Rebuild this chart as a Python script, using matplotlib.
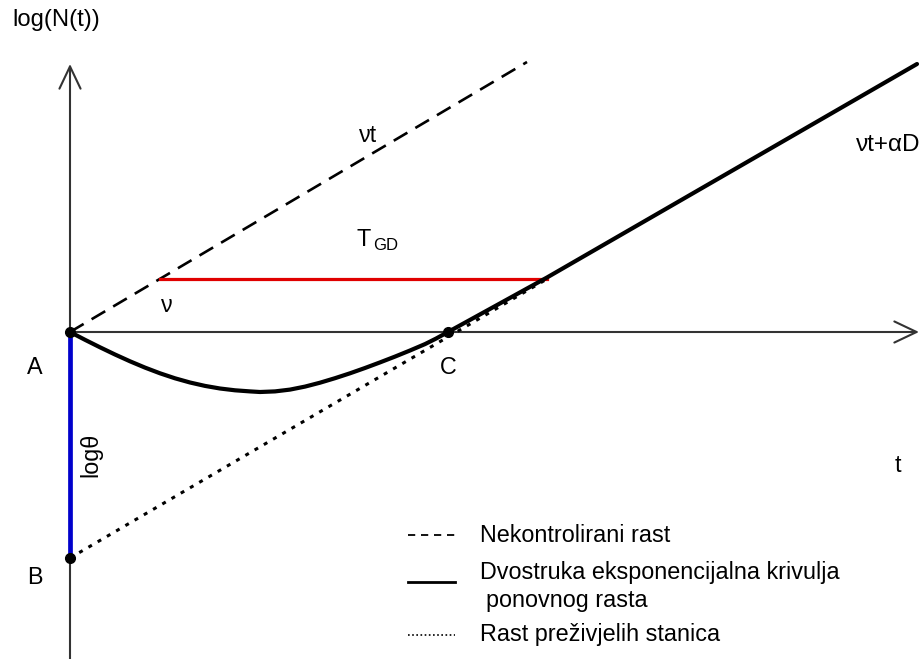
import matplotlib
matplotlib.use("Agg")
import matplotlib.pyplot as plt

plt.rcParams['font.family'] = ['Liberation Sans', 'DejaVu Sans']

# Model coordinates: time t to the right, log(N(t)) upward, origin at A.
log_theta = -2.26

# Uncontrolled growth (slope nu, starts at A)
uncontrolled_t = [0.0, 4.57]
uncontrolled_y = [0.0, 2.70]

# Growth of surviving cells (starts at B = log(theta))
survivors_t = [0.0, 4.77]
survivors_y = [log_theta, 0.53]

# Double exponential regrowth curve
regrowth_t = [0.00, 0.15, 0.30, 0.45, 0.60, 0.75, 0.90, 1.05, 1.20, 1.35,
              1.50, 1.65, 1.80, 1.90, 2.05, 2.20, 2.35, 2.50, 2.65, 2.80,
              2.95, 3.10, 3.25, 3.40, 3.55, 3.66, 3.78, 4.30, 4.77, 8.47]
regrowth_y = [0.000, -0.078, -0.153, -0.225, -0.293, -0.356, -0.413, -0.463,
              -0.505, -0.539, -0.565, -0.583, -0.594, -0.600, -0.594, -0.576,
              -0.546, -0.507, -0.462, -0.413, -0.360, -0.304, -0.246, -0.185,
              -0.121, -0.066, 0.000, 0.286, 0.545, 2.68]

# Growth delay T_GD
tgd_t = [0.90, 4.77]
tgd_y = 0.53

# Marked points
point_a = (0.0, 0.0)
point_b = (0.0, log_theta)
point_c = (3.78, 0.0)

fig = plt.figure(figsize=(9.22, 6.59), dpi=100)
ax = fig.add_axes([0, 0, 1, 1])
ax.set_xlim(-0.70, 8.52)
ax.set_ylim(-3.27, 3.32)
ax.axis('off')

axis_color = '#333333'
arrow_kw = dict(arrowstyle='->,head_length=0.8,head_width=0.38',
                color=axis_color, lw=1.5, shrinkA=0, shrinkB=0,
                mutation_scale=20)
ax.annotate('', xy=(0.0, 2.68), xytext=(0.0, -3.30), arrowprops=arrow_kw)
ax.annotate('', xy=(8.49, 0.0), xytext=(0.0, 0.0), arrowprops=arrow_kw)

# log(theta) segment
ax.plot([0.0, 0.0], [0.0, log_theta], color='#0000cc', lw=3.4,
        solid_capstyle='butt', zorder=3)

ax.plot(uncontrolled_t, uncontrolled_y, color='black', lw=1.9,
        dashes=(6, 3.5), zorder=3)
ax.plot(survivors_t, survivors_y, color='black', lw=2.2,
        dashes=(1.3, 2.2), zorder=3)
ax.plot(tgd_t, [tgd_y, tgd_y], color='#e00000', lw=2.3, zorder=3)
ax.plot(regrowth_t, regrowth_y, color='black', lw=3.0, zorder=4,
        solid_joinstyle='round', solid_capstyle='round')

for p in (point_a, point_b, point_c):
    ax.plot(*p, 'o', color='black', ms=7, zorder=5)

fs = 16.8
ax.text(-0.58, 3.12, 'log(N(t))', fontsize=17.2, ha='left', va='center')
ax.text(2.98, 1.96, 'νt', fontsize=fs, ha='center', va='center')
ax.text(8.50, 1.87, 'νt+αD', fontsize=17.5, ha='right', va='center')
ax.text(2.94, 0.92, 'T', fontsize=fs, ha='center', va='center')
ax.text(3.03, 0.87, 'GD', fontsize=12, ha='left', va='center')
ax.text(0.97, 0.27, 'ν', fontsize=fs, ha='center', va='center')
ax.text(-0.35, -0.36, 'A', fontsize=fs, ha='center', va='center')
ax.text(3.78, -0.35, 'C', fontsize=fs, ha='center', va='center')
ax.text(-0.35, -2.46, 'B', fontsize=fs, ha='center', va='center')
ax.text(8.28, -1.34, 't', fontsize=fs, ha='center', va='center')
ax.text(0.21, -1.23, 'logθ', fontsize=fs, ha='center', va='center',
        rotation=90)

# Legend
lx = [3.38, 3.85]
ax.plot(lx, [-2.03, -2.03], color='black', lw=1.3, dashes=(4, 3.2))
ax.plot(lx, [-2.50, -2.50], color='black', lw=2.0)
ax.plot(lx, [-3.03, -3.03], color='black', lw=1.2, dashes=(1, 1.5))
ax.text(4.10, -2.03, 'Nekontrolirani rast', fontsize=fs, ha='left', va='center')
ax.text(4.10, -2.40, 'Dvostruka eksponencijalna krivulja', fontsize=fs,
        ha='left', va='center')
ax.text(4.16, -2.68, 'ponovnog rasta', fontsize=fs, ha='left', va='center')
ax.text(4.10, -3.03, 'Rast preživjelih stanica', fontsize=fs, ha='left',
        va='center')

fig.savefig('out.png', dpi=100)
